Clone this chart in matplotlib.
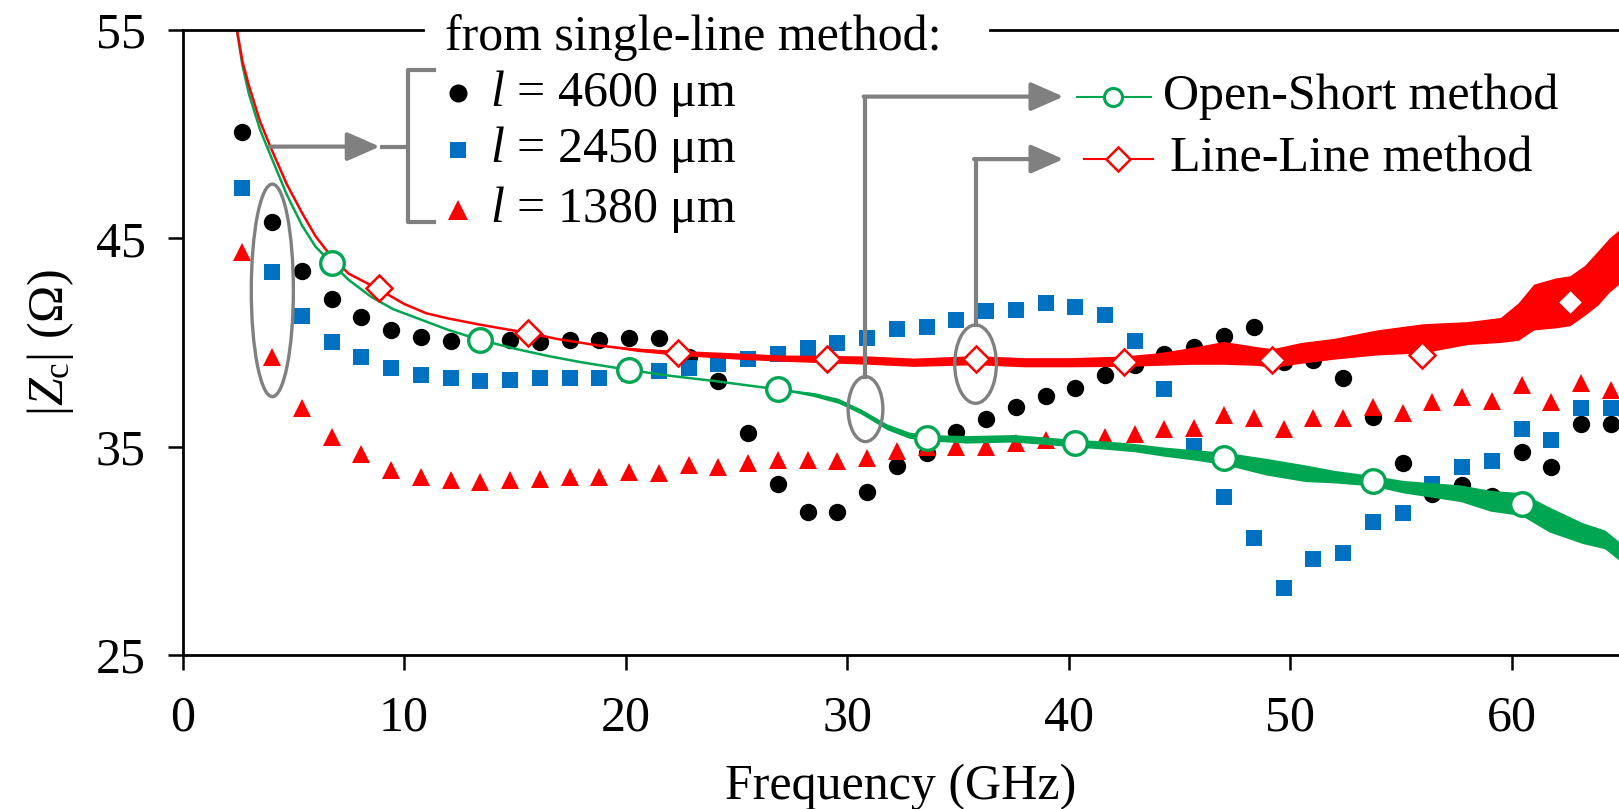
import matplotlib
matplotlib.use('Agg')
import matplotlib.pyplot as plt
import numpy as np
from matplotlib.patches import Ellipse

plt.rcParams['font.family'] = ['Liberation Serif', 'DejaVu Serif']
plt.rcParams['mathtext.fontset'] = 'custom'
plt.rcParams['mathtext.rm'] = 'Liberation Serif'
plt.rcParams['mathtext.it'] = 'Liberation Serif:italic'
plt.rcParams['mathtext.bf'] = 'Liberation Serif:bold'

# ---------------- data ----------------
freq = [2.70, 4.04, 5.39, 6.73, 8.07, 9.42, 10.76, 12.10, 13.44, 14.79, 16.13,
        17.47, 18.82, 20.16, 21.50, 22.85, 24.19, 25.53, 26.87, 28.22, 29.56,
        30.90, 32.25, 33.59, 34.93, 36.28, 37.62, 38.96, 40.30, 41.65, 42.99,
        44.33, 45.68, 47.02, 48.36, 49.71, 51.05, 52.39, 53.73, 55.08, 56.42,
        57.76, 59.11, 60.45, 61.79, 63.14, 64.48]

z_4600 = [50.12, 45.8, 43.44, 42.09, 41.2, 40.6, 40.25, 40.07, 40.05, 40.12, 40.04,
          40.12, 40.12, 40.2, 40.2, 39.32, 38.17, 35.67, 33.2, 31.88, 31.88,
          32.8, 34.08, 34.68, 35.72, 36.33, 36.92, 37.44, 37.83, 38.44, 38.9,
          39.45, 39.8, 40.31, 40.76, 39.05, 39.16, 38.27, 36.4, 34.2, 32.72,
          33.16, 32.63, 34.72, 34.04, 36.07, 36.07]

z_2450 = [47.4, 43.38, 41.29, 40.04, 39.32, 38.76, 38.44, 38.31, 38.17, 38.2, 38.28,
          38.31, 38.28, 38.5, 38.65, 38.76, 38.97, 39.19, 39.43, 39.72, 39.96,
          40.2, 40.63, 40.76, 41.08, 41.53, 41.55, 41.88, 41.72, 41.32, 40.07,
          37.77, 35.03, 32.57, 30.6, 28.2, 29.59, 29.91, 31.36, 31.8, 33.19,
          34.04, 34.32, 35.83, 35.32, 36.84, 36.84]

z_1380 = [44.36, 39.32, 36.87, 35.44, 34.64, 33.88, 33.52, 33.4, 33.32, 33.4, 33.43,
          33.56, 33.56, 33.8, 33.72, 34.12, 34.04, 34.2, 34.36, 34.36, 34.31,
          34.44, 34.8, 35.0, 35.0, 35.0, 35.15, 35.32, 35.35, 35.48, 35.6,
          35.83, 35.88, 36.52, 36.36, 35.83, 36.39, 36.39, 36.92, 36.6, 37.16,
          37.4, 37.2, 37.96, 37.16, 38.04, 37.72]

# Open-Short method (continuous trace: centre and half-width of the noisy band)
os_freq = [2.3, 2.45, 2.7, 3.0, 3.5, 4.0, 4.7, 5.4, 6.0, 6.73, 7.5, 8.5, 9.5, 10.5,
           12.0, 13.44, 15.0, 16.5, 18.0, 20.16, 22.0, 24.0, 26.87, 28.5, 29.6,
           30.6, 31.8, 32.8, 33.59, 35.4, 37.5, 39.0, 40.3, 41.6, 43.0, 44.3,
           45.7, 47.02, 48.9, 50.7, 52.0, 53.73, 55.1, 56.4, 57.7, 59.05, 60.45,
           61.7, 63.2, 64.2, 64.85]
os_z = [56.5, 55.0, 53.3, 51.9, 50.2, 48.9, 47.1, 45.6, 44.6, 43.8, 43.0, 42.2,
        41.6, 41.2, 40.6, 40.12, 39.7, 39.35, 39.05, 38.68, 38.4, 38.15, 37.75,
        37.5, 37.2, 36.7, 35.95, 35.55, 35.43, 35.35, 35.4, 35.28, 35.16, 35.08,
        34.95, 34.76, 34.6, 34.44, 34.04, 33.72, 33.56, 33.36, 33.08, 32.92,
        32.76, 32.4, 32.24, 31.5, 30.85, 30.55, 30.0]
os_hw = [0] * 23 + [0.1, 0.12, 0.12, 0.14, 0.15, 0.15, 0.18, 0.18, 0.18, 0.18,
                    0.2, 0.2, 0.22, 0.25, 0.3, 0.4, 0.4, 0.3, 0.25, 0.3, 0.35,
                    0.4, 0.5, 0.55, 0.6, 0.5, 0.45, 0.45]
os_mark_freq = [6.73, 13.44, 20.16, 26.87, 33.59, 40.30, 47.02, 53.73, 60.45]
os_mark_z = [43.8, 40.12, 38.68, 37.75, 35.43, 35.16, 34.44, 33.36, 32.24]

# Line-Line method
ll_freq = [2.3, 2.45, 2.7, 3.0, 3.5, 4.0, 4.7, 5.4, 6.0, 6.73, 7.5, 8.86, 10.0,
           11.0, 12.0, 13.44, 15.6, 17.0, 18.8, 20.5, 22.37, 25.0, 27.0, 29.07,
           31.0, 33.0, 35.8, 38.0, 40.0, 42.5, 44.0, 45.5, 47.0, 48.5, 49.2,
           50.5, 52.0, 53.9, 56.0, 58.0, 59.5, 60.3, 61.0, 62.0, 62.63, 63.3,
           63.9, 64.4, 64.85]
ll_z = [56.6, 55.0, 53.5, 52.3, 50.6, 49.3, 47.6, 46.2, 45.1, 44.1, 43.3, 42.55,
        41.85, 41.4, 41.15, 40.85, 40.45, 40.15, 39.85, 39.65, 39.5, 39.35,
        39.25, 39.2, 39.15, 39.05, 39.15, 39.05, 39.05, 39.1, 39.2, 39.35, 39.5,
        39.35, 39.25, 39.5, 39.7, 40.0, 40.2, 40.45, 40.6, 41.0, 41.7, 41.9,
        42.0, 42.5, 43.1, 43.7, 44.1]
ll_hw = [0] * 19 + [0.08, 0.12, 0.15, 0.15, 0.18, 0.2, 0.2, 0.22, 0.22, 0.22,
                    0.25, 0.3, 0.4, 0.55, 0.45, 0.45, 0.5, 0.5, 0.6, 0.7, 0.55,
                    0.6, 0.9, 1.1, 1.2, 1.2, 1.2, 1.3, 1.3, 1.3]
ll_mark_freq = [8.86, 15.6, 22.37, 29.07, 35.8, 42.5, 49.2, 55.94, 62.63]
ll_mark_z = [42.6, 40.44, 39.5, 39.2, 39.2, 39.05, 39.16, 39.4, 41.96]

x_ticks = [0, 10, 20, 30, 40, 50, 60]
y_ticks = [25, 35, 45, 55]

# ---------------- styling ----------------
GREEN = '#00A651'
RED = '#FF0000'
BLUE = '#0070C0'
GREY = '#808080'
FS = 36

fig = plt.figure(figsize=(16.19, 8.09), dpi=100)
ax = fig.add_axes([0.1128, 0.1904, 0.8872, 0.7726])
ax.set_xlim(0, 64.85)
ax.set_ylim(25, 55)

# scatter series (single-line method)
ax.plot(freq, z_4600, 'o', color='black', ms=12.5, mew=0, zorder=3)
ax.plot(freq, z_2450, 's', color=BLUE, ms=11.5, mew=0, zorder=3)
ax.plot(freq, z_1380, '^', color=RED, ms=13.5, mew=0, zorder=3)

# continuous traces with noisy band
os_f = np.array(os_freq); os_c = np.array(os_z); os_h = np.array(os_hw)
ll_f = np.array(ll_freq); ll_c = np.array(ll_z); ll_h = np.array(ll_hw)
ax.fill_between(os_f, os_c - os_h, os_c + os_h, color=GREEN, lw=0, zorder=4)
ax.plot(os_f, os_c, '-', color=GREEN, lw=1.8, zorder=4)
ax.fill_between(ll_f, ll_c - ll_h, ll_c + ll_h, color=RED, lw=0, zorder=4)
ax.plot(ll_f, ll_c, '-', color=RED, lw=1.8, zorder=4)

ax.plot(os_mark_freq, os_mark_z, 'o', ms=17, mfc='white', mec=GREEN, mew=2.4, zorder=5)
ax.plot(ll_mark_freq, ll_mark_z, 'D', ms=13, mfc='white', mec=RED, mew=1.8, zorder=5)

# axes appearance
for s in ['right', 'top']:
    ax.spines[s].set_visible(False)
for s in ['left', 'bottom']:
    ax.spines[s].set_linewidth(2.0)
ax.set_xticks(x_ticks)
ax.set_yticks(y_ticks)
ax.tick_params(axis='both', direction='out', length=10.5, width=1.8, labelsize=36)
ax.tick_params(axis='x', pad=18)
ax.tick_params(axis='y', pad=16)
ax.set_xlabel('Frequency (GHz)', fontsize=FS, labelpad=16)
ax.set_ylabel(r'$|Z_{\mathrm{c}}|$ (Ω)', fontsize=FS)
ax.yaxis.set_label_coords(-0.074, 0.5)

# top border interrupted by the title text
ax.plot([0, 0.1673], [1, 1], color='black', lw=2.0, transform=ax.transAxes,
        clip_on=False, zorder=6)
ax.plot([0.5621, 1.0], [1, 1], color='black', lw=2.0, transform=ax.transAxes,
        clip_on=False, zorder=6)
ax.text(11.85, 54.04, 'from single-line method:', fontsize=FS, ha='left',
        va='baseline', zorder=7)

# legend for single-line method
ax.plot([12.43], [51.96], 'o', color='black', ms=13, mew=0, clip_on=False)
ax.plot([12.43], [49.24], 's', color=BLUE, ms=12, mew=0, clip_on=False)
ax.plot([12.43], [46.36], '^', color=RED, ms=14, mew=0, clip_on=False)
ax.text(13.9, 51.96, r'$l$ = 4600 μm', fontsize=FS, va='center', ha='left')
ax.text(13.9, 49.24, r'$l$ = 2450 μm', fontsize=FS, va='center', ha='left')
ax.text(13.9, 46.36, r'$l$ = 1380 μm', fontsize=FS, va='center', ha='left')

# legend for the two methods
ax.plot([40.4, 43.7], [51.8, 51.8], '-', color=GREEN, lw=1.5)
ax.plot([42.0], [51.8], 'o', ms=13, mfc='white', mec=GREEN, mew=2.2)
ax.text(44.25, 51.8, 'Open-Short method', fontsize=FS, va='center', ha='left')
ax.plot([40.7, 43.8], [48.8, 48.8], '-', color=RED, lw=1.5)
ax.plot([42.25], [48.8], 'D', ms=12, mfc='white', mec=RED, mew=1.8)
ax.text(44.6, 48.8, 'Line-Line method', fontsize=FS, va='center', ha='left')

# grey annotations
arrow_style = '-|>,head_length=0.5,head_width=0.22'
ax.add_patch(Ellipse((4.05, 42.5), 1.9, 10.2, fill=False, ec=GREY, lw=2.4, zorder=6))
ax.annotate('', xy=(8.9, 49.4), xytext=(3.95, 49.4),
            arrowprops=dict(arrowstyle=arrow_style, color=GREY, lw=3,
                            mutation_scale=40, shrinkA=0, shrinkB=0), zorder=6)
ax.plot([8.9, 10.17], [49.4, 49.4], color=GREY, lw=3, solid_capstyle='butt', zorder=6)
ax.plot([11.33, 10.17, 10.17, 11.33], [53.08, 53.08, 45.8, 45.8], color=GREY, lw=3,
        solid_joinstyle='round', zorder=6)

ax.add_patch(Ellipse((30.83, 36.8), 1.57, 3.12, fill=False, ec=GREY, lw=2.4, zorder=6))
ax.plot([30.82, 30.82], [38.36, 51.8], color=GREY, lw=3, zorder=6)
ax.annotate('', xy=(39.77, 51.8), xytext=(30.75, 51.8),
            arrowprops=dict(arrowstyle=arrow_style, color=GREY, lw=3,
                            mutation_scale=40, shrinkA=0, shrinkB=0), zorder=6)

ax.add_patch(Ellipse((35.8, 38.96), 1.88, 3.76, fill=False, ec=GREY, lw=2.4, zorder=6))
ax.plot([35.8, 35.8], [40.84, 48.8], color=GREY, lw=3, zorder=6)
ax.annotate('', xy=(39.77, 48.8), xytext=(35.73, 48.8),
            arrowprops=dict(arrowstyle=arrow_style, color=GREY, lw=3,
                            mutation_scale=40, shrinkA=0, shrinkB=0), zorder=6)

fig.savefig('out.png', dpi=100)
